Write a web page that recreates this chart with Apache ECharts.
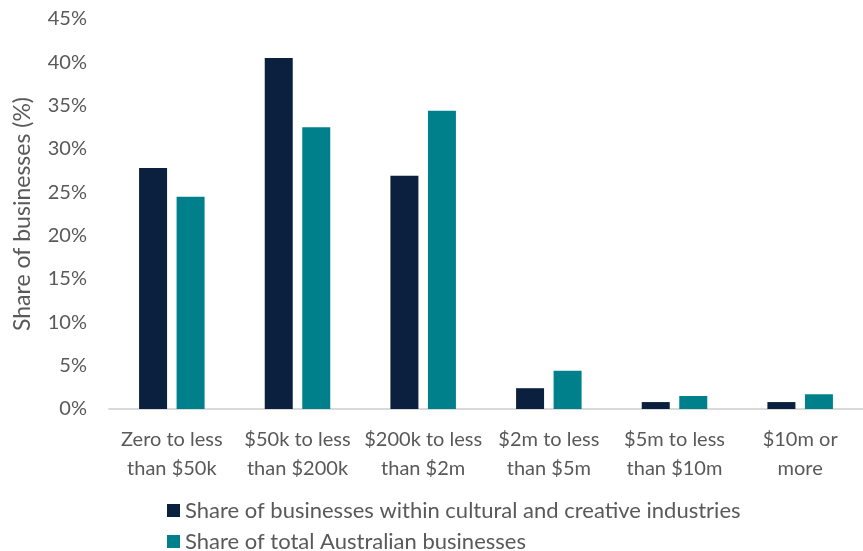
<!DOCTYPE html>
<html>
<head>
<meta charset="utf-8">
<script src="https://cdn.jsdelivr.net/npm/echarts@6/dist/echarts.min.js"></script>
<style>
  html, body { margin: 0; padding: 0; background: #fff; }
  #chart { width: 863px; height: 551px; }
</style>
</head>
<body>
<div id="chart"></div>
<script>
// Turnover bands
const categories = [
  'Zero to less\nthan $50k',
  '$50k to less\nthan $200k',
  '$200k to less\nthan $2m',
  '$2m to less\nthan $5m',
  '$5m to less\nthan $10m',
  '$10m or\nmore'
];
// Share of businesses (%) per band
const culturalShare = [27.8, 40.5, 26.9, 2.4, 0.8, 0.8];
const australianShare = [24.5, 32.5, 34.4, 4.4, 1.5, 1.7];
const seriesNames = [
  'Share of businesses within cultural and creative industries',
  'Share of total Australian businesses'
];

const FONT = 'Lato, sans-serif';
const TEXT = '#595959';

const chart = echarts.init(document.getElementById('chart'));
chart.setOption({
  animation: false,
  textStyle: { fontFamily: FONT },
  grid: { left: 109, width: 768, top: 19, bottom: 142 },
  legend: {
    orient: 'vertical',
    left: 167,
    top: 499,
    height: 120,
    padding: 0,
    itemWidth: 13,
    itemHeight: 13,
    itemGap: 8,
    icon: 'rect',
    textStyle: { fontFamily: FONT, fontSize: 22, color: TEXT, lineHeight: 23 },
    data: seriesNames
  },
  xAxis: {
    type: 'category',
    data: categories,
    axisLine: { lineStyle: { color: '#D9D9D9', width: 2 } },
    axisTick: { show: false },
    axisLabel: {
      fontFamily: FONT,
      fontSize: 20,
      color: TEXT,
      margin: 16,
      lineHeight: 29,
      interval: 0
    }
  },
  yAxis: {
    type: 'value',
    min: 0,
    max: 45,
    interval: 5,
    name: 'Share of businesses (%)',
    nameLocation: 'middle',
    nameGap: 75,
    nameRotate: 90,
    nameTextStyle: { fontFamily: FONT, fontSize: 23, color: TEXT },
    splitLine: { show: false },
    axisLine: { show: false },
    axisTick: { show: false },
    axisLabel: {
      fontFamily: FONT,
      fontSize: 20,
      color: TEXT,
      margin: 22,
      formatter: v => v + '%'
    }
  },
  series: [
    {
      name: seriesNames[0],
      type: 'bar',
      data: culturalShare,
      barWidth: 28,
      barGap: '34%',
      itemStyle: { color: '#0B1F3F' }
    },
    {
      name: seriesNames[1],
      type: 'bar',
      data: australianShare,
      barWidth: 28,
      itemStyle: { color: '#00808A' }
    }
  ]
});
</script>
</body>
</html>
